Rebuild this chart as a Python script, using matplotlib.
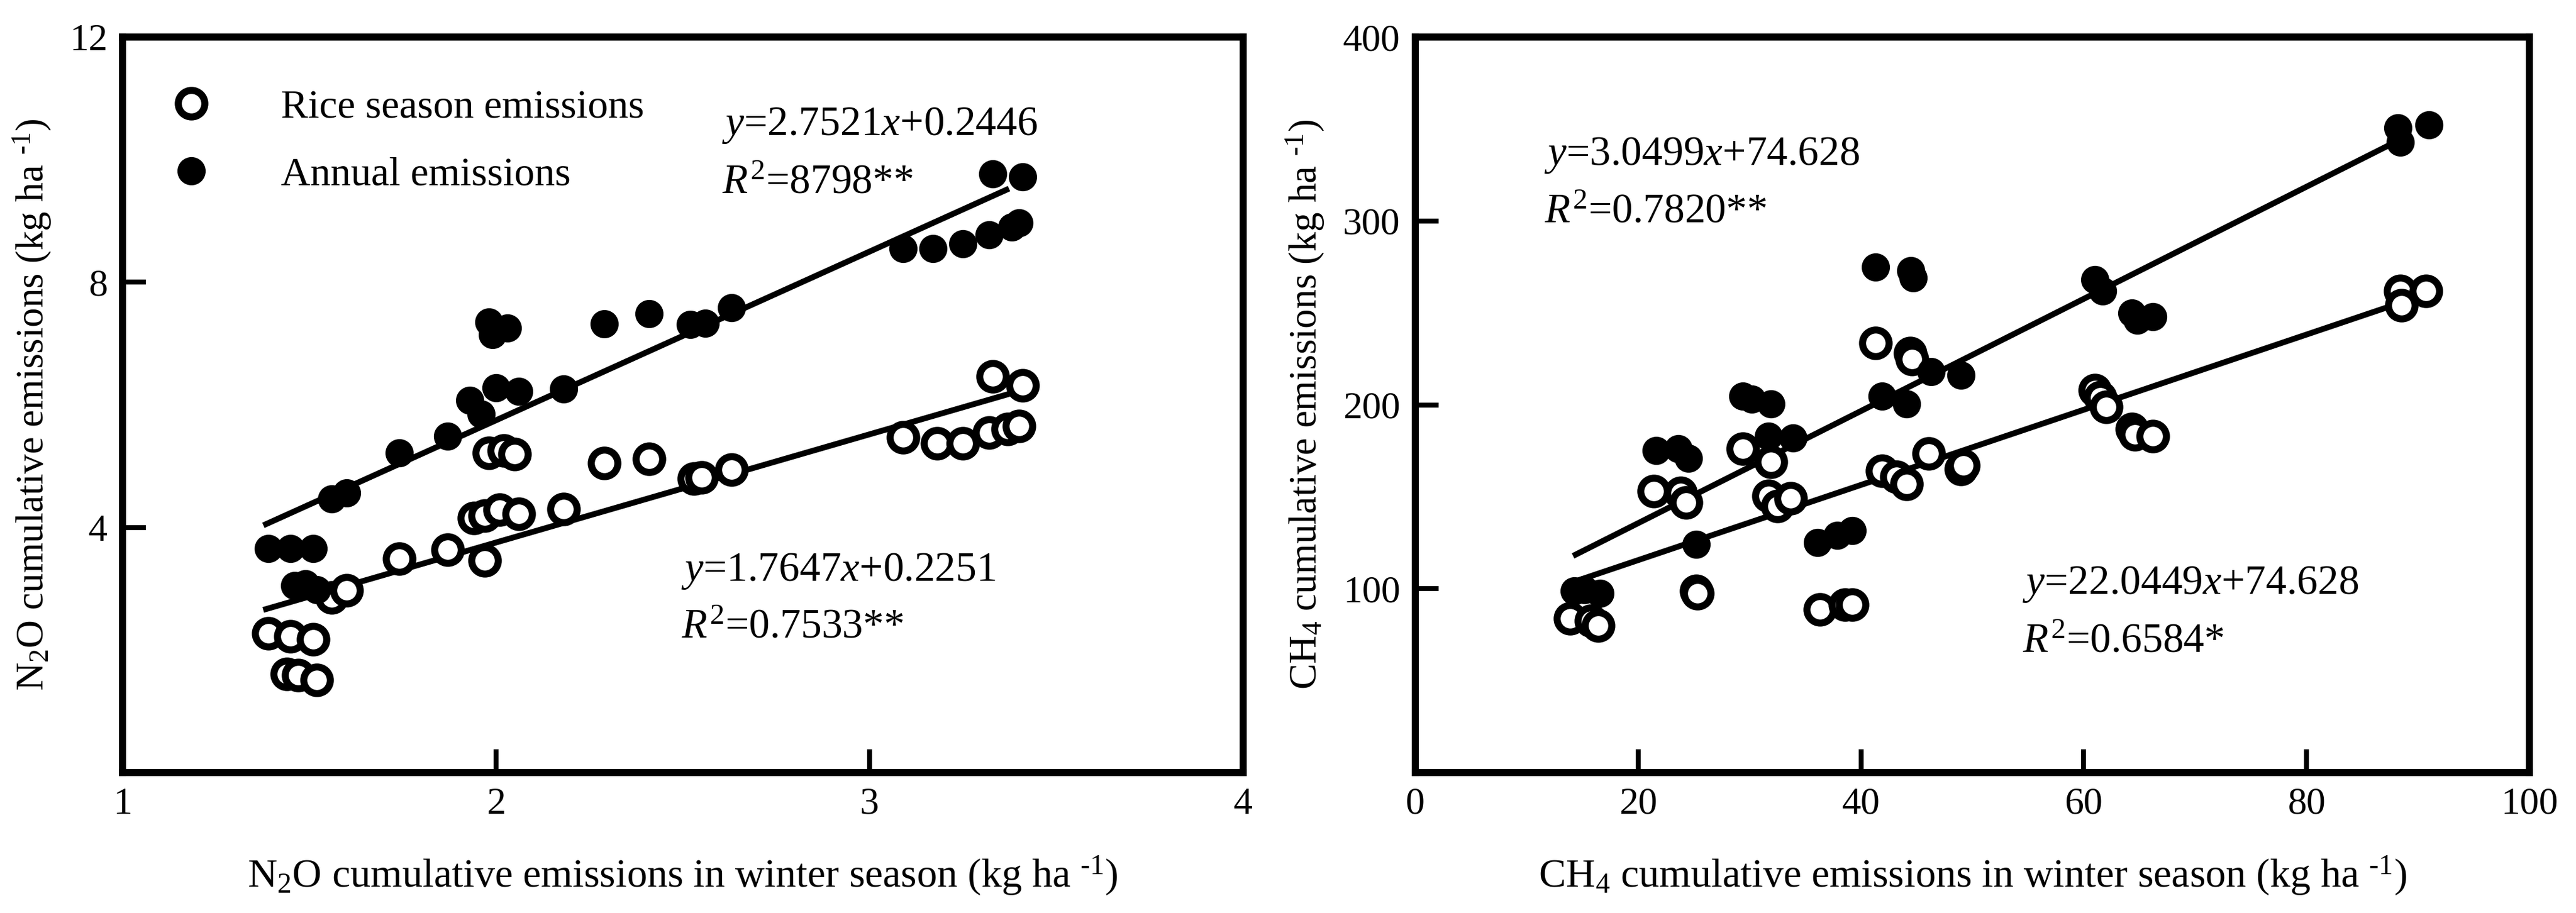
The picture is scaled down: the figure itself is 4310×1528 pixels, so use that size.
import matplotlib
matplotlib.use('Agg')
import numpy as np
import matplotlib.pyplot as plt

plt.rcParams['font.family'] = ['Liberation Serif', 'DejaVu Serif']
plt.rcParams['mathtext.fontset'] = 'custom'
plt.rcParams['mathtext.rm'] = 'Liberation Serif'
plt.rcParams['mathtext.it'] = 'Liberation Serif:italic'

# N2O panel: winter season emissions vs rice-season / annual emissions
n2o_rice_x = [1.39, 1.45, 1.51, 1.44, 1.47, 1.52, 1.56, 1.60, 1.74, 1.87, 1.97,
              1.94, 1.97, 2.01, 2.06, 2.18, 1.98, 2.02, 2.05, 2.29, 2.41, 2.53,
              2.55, 2.63, 3.09, 3.18, 3.25, 3.32, 3.37, 3.40, 3.33, 3.41]
n2o_rice_y = [2.27, 2.22, 2.17, 1.61, 1.59, 1.51, 2.86, 2.97, 3.49, 3.64, 3.46,
              4.15, 4.19, 4.29, 4.22, 4.30, 5.22, 5.25, 5.20, 5.05, 5.12, 4.80,
              4.82, 4.94, 5.47, 5.37, 5.37, 5.55, 5.61, 5.65, 6.46, 6.32]
n2o_annual_x = [1.39, 1.45, 1.51, 1.46, 1.49, 1.52, 1.56, 1.60, 1.74, 1.87, 1.93,
                1.96, 2.00, 2.06, 2.18, 1.98, 2.03, 1.99, 2.29, 2.41, 2.52, 2.56,
                2.63, 3.09, 3.17, 3.25, 3.32, 3.38, 3.40, 3.33, 3.41]
n2o_annual_y = [3.66, 3.66, 3.66, 3.05, 3.08, 2.98, 4.46, 4.56, 5.22, 5.49, 6.07,
                5.85, 6.28, 6.22, 6.26, 7.35, 7.25, 7.15, 7.32, 7.49, 7.31, 7.33,
                7.58, 8.55, 8.55, 8.63, 8.77, 8.90, 8.97, 9.77, 9.72]

# CH4 panel
ch4_rice_x = [13.9, 15.8, 16.4, 21.4, 23.8, 24.3, 25.2, 25.3, 29.4, 31.9, 31.7,
              32.5, 33.7, 36.3, 38.6, 39.2, 41.3, 44.4, 44.6, 41.9, 43.2, 44.1,
              46.1, 49.0, 49.2, 61.0, 61.5, 62.0, 64.3, 64.6, 66.2, 88.4, 88.5, 90.7]
ch4_rice_y = [83.7, 82.4, 79.8, 153, 152, 147, 98.7, 97.5, 176, 169, 150.5,
              145, 149, 88.6, 91.2, 91.2, 233.5, 228, 225, 164, 161, 157,
              173.6, 165, 167, 208, 204, 199, 187, 184, 183, 262, 254, 262]
ch4_annual_x = [14.3, 15.2, 16.6, 21.6, 23.6, 24.5, 25.2, 29.4, 30.2, 31.9, 31.7,
                33.9, 36.1, 37.9, 39.2, 41.3, 44.5, 44.7, 41.9, 44.1, 46.3, 49.0,
                61.0, 61.7, 64.3, 64.8, 66.2, 88.2, 88.4, 91.0]
ch4_annual_y = [98.7, 99.5, 97.4, 175, 176, 171, 124, 204.6, 203, 200.6, 183,
                182, 125, 129, 131.6, 275, 273, 269, 204.6, 200.6, 218, 216,
                268, 262, 250, 246, 248, 350.5, 342.7, 352.4]

# fitted lines (slope, intercept) and the x span they cover
n2o_annual_fit = (2.7521, 0.2446)
n2o_rice_fit = (1.7647, 0.2251)
n2o_fit_span = (1.384, 3.366)
ch4_annual_fit = (3.0499, 74.628)
ch4_rice_fit = (2.0449, 74.628)   # printed on the chart as 22.0449
ch4_fit_span = (14.4, 88.5)

n2o_annual_text = ['$y$=2.7521$x$+0.2446', '$R^{\\mathrm{2}}$=8798**']
n2o_rice_text = ['$y$=1.7647$x$+0.2251', '$R^{\\mathrm{2}}$=0.7533**']
ch4_annual_text = ['$y$=3.0499$x$+74.628', '$R^{\\mathrm{2}}$=0.7820**']
ch4_rice_text = ['$y$=22.0449$x$+74.628', '$R^{\\mathrm{2}}$=0.6584*']

fig = plt.figure(figsize=(43.1, 15.28), dpi=100)
ax1 = fig.add_axes([0.0476, 0.1538, 0.4350, 0.8056])
ax2 = fig.add_axes([0.5494, 0.1538, 0.4325, 0.8056])

open_style = dict(marker='o', linestyle='none', ms=32, mfc='white', mec='black', mew=8.5)
fill_style = dict(marker='o', linestyle='none', ms=34, mfc='black', mec='black', mew=0)


def draw_panel(ax, rx, ry, axx, ayy, rfit, afit, span):
    xs = np.array(span)
    ax.plot(xs, afit[0] * xs + afit[1], color='black', lw=7, zorder=1)
    ax.plot(xs, rfit[0] * xs + rfit[1], color='black', lw=7, zorder=1)
    h1, = ax.plot(rx, ry, zorder=2, **open_style)
    h2, = ax.plot(axx, ayy, zorder=3, **fill_style)
    for s in ax.spines.values():
        s.set_linewidth(8.5)
    ax.tick_params(direction='in', length=28, width=6, labelsize=46, pad=18,
                   top=False, right=False)
    return h1, h2


h1, h2 = draw_panel(ax1, n2o_rice_x, n2o_rice_y, n2o_annual_x, n2o_annual_y,
                    n2o_rice_fit, n2o_annual_fit, n2o_fit_span)
ax1.set_xlim(1, 4)
ax1.set_ylim(0, 12)
ax1.set_xticks([1, 2, 3, 4])
ax1.set_yticks([4, 8, 12])
ax1.set_xlabel('N$_{\\mathrm{2}}$O cumulative emissions in winter season (kg ha $^{\\text{-1}}$)',
               fontsize=49, labelpad=38)
ax1.set_ylabel('N$_{\\mathrm{2}}$O cumulative emissions (kg ha $^{\\text{-1}}$)',
               fontsize=47, labelpad=20)
ax1.legend([h1, h2], ['Rice season emissions', 'Annual emissions'],
           loc='upper left', bbox_to_anchor=(0.043, 0.929), frameon=False,
           fontsize=49, handlelength=1.0, handletextpad=1.7, labelspacing=0.75,
           borderpad=0, borderaxespad=0, markerscale=1.0)

ax1.text(2.605, 10.40, n2o_annual_text[0], fontsize=50)
ax1.text(2.605, 9.45, n2o_annual_text[1], fontsize=50)
ax1.text(2.496, 3.13, n2o_rice_text[0], fontsize=50)
ax1.text(2.496, 2.20, n2o_rice_text[1], fontsize=50)

draw_panel(ax2, ch4_rice_x, ch4_rice_y, ch4_annual_x, ch4_annual_y,
           ch4_rice_fit, ch4_annual_fit, ch4_fit_span)
ax2.set_xlim(0, 100)
ax2.set_ylim(0, 400)
ax2.set_xticks([0, 20, 40, 60, 80, 100])
ax2.set_yticks([100, 200, 300, 400])
ax2.set_xlabel('CH$_{\\mathrm{4}}$ cumulative emissions in winter season (kg ha $^{\\text{-1}}$)',
               fontsize=49, labelpad=38)
ax2.set_ylabel('CH$_{\\mathrm{4}}$ cumulative emissions (kg ha $^{\\text{-1}}$)',
               fontsize=47, labelpad=20)

ax2.text(11.6, 330.6, ch4_annual_text[0], fontsize=50)
ax2.text(11.6, 299, ch4_annual_text[1], fontsize=50)
ax2.text(54.5, 97, ch4_rice_text[0], fontsize=50)
ax2.text(54.5, 65.5, ch4_rice_text[1], fontsize=50)

fig.savefig('out.png', dpi=100, facecolor='white')
